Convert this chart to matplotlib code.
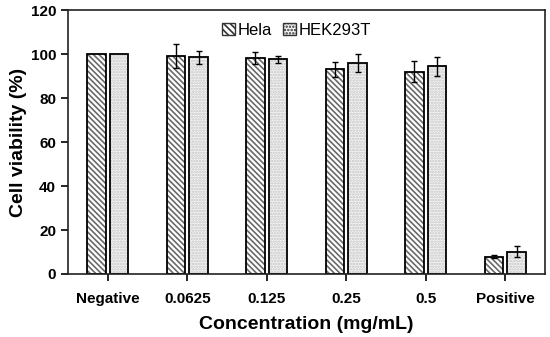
import numpy as np
import matplotlib.pyplot as plt
from matplotlib.patches import Patch

plt.rcParams['font.family'] = ['Liberation Sans', 'DejaVu Sans']
plt.rcParams['hatch.linewidth'] = 1.2

categories = ['Negative', '0.0625', '0.125', '0.25', '0.5', 'Positive']
hela_mean = [100, 99.1, 98.1, 93.0, 92.0, 7.9]
hela_err = [0, 5.3, 2.8, 3.4, 4.7, 0.7]
hek_mean = [100, 98.5, 97.6, 95.9, 94.4, 10.2]
hek_err = [0, 3.0, 1.7, 4.0, 4.4, 2.4]
series_names = ['Hela', 'HEK293T']

x = np.arange(len(categories))
w = 0.235
off = 0.142
hela_hatch = '\\' * 6
hek_hatch = '.' * 6

fig = plt.figure(figsize=(5.5, 3.37), dpi=100)
ax = fig.add_axes([0.1236, 0.187, 0.8674, 0.783])

# hatched fills, then black outlines on top
ax.bar(x - off, hela_mean, w, color='white', edgecolor='#6a6a6a', hatch=hela_hatch, linewidth=0)
ax.bar(x + off, hek_mean, w, color='#f4f4f4', edgecolor='#c4c4c4', hatch=hek_hatch, linewidth=0)
ax.bar(x - off, hela_mean, w, fill=False, edgecolor='black', linewidth=1.3)
ax.bar(x + off, hek_mean, w, fill=False, edgecolor='black', linewidth=1.3)

# error bars only where there is a spread (controls have none)
for pos, mean, err in [(x - off, hela_mean, hela_err), (x + off, hek_mean, hek_err)]:
    m = np.array(err) > 0
    ax.errorbar(pos[m], np.array(mean)[m], yerr=np.array(err)[m], fmt='none', ecolor='black',
                elinewidth=1, capsize=2.5, capthick=1)

ax.set_xlim(-0.5, len(categories) - 0.5)
ax.set_ylim(0, 120)
ax.set_yticks(range(0, 121, 20))
ax.set_xticks(x)
ax.set_xticklabels(categories)
for lab in ax.get_xticklabels() + ax.get_yticklabels():
    lab.set_fontweight('bold')
    lab.set_fontsize(11)
ax.tick_params(axis='both', direction='out', length=5, width=1.2, colors='black')
ax.tick_params(axis='x', pad=8)
for s in ax.spines.values():
    s.set_linewidth(1.2)
    s.set_color('#222222')

ax.set_ylabel('Cell viability (%)', fontsize=14, fontweight='bold', labelpad=3)
ax.set_xlabel('Concentration (mg/mL)', fontsize=14, fontweight='bold', labelpad=7)

handles = [Patch(facecolor='white', edgecolor='#333333', hatch='\\' * 5, linewidth=1),
           Patch(facecolor='#f4f4f4', edgecolor='#333333', hatch='.' * 5, linewidth=1)]
ax.legend(handles, series_names, loc='upper center', bbox_to_anchor=(0.479, 0.995), ncol=2,
          frameon=False, handlelength=0.75, handleheight=0.75, handletextpad=0.15,
          columnspacing=0.7, fontsize=12, borderpad=0.2)

fig.savefig('out.png', dpi=100)
